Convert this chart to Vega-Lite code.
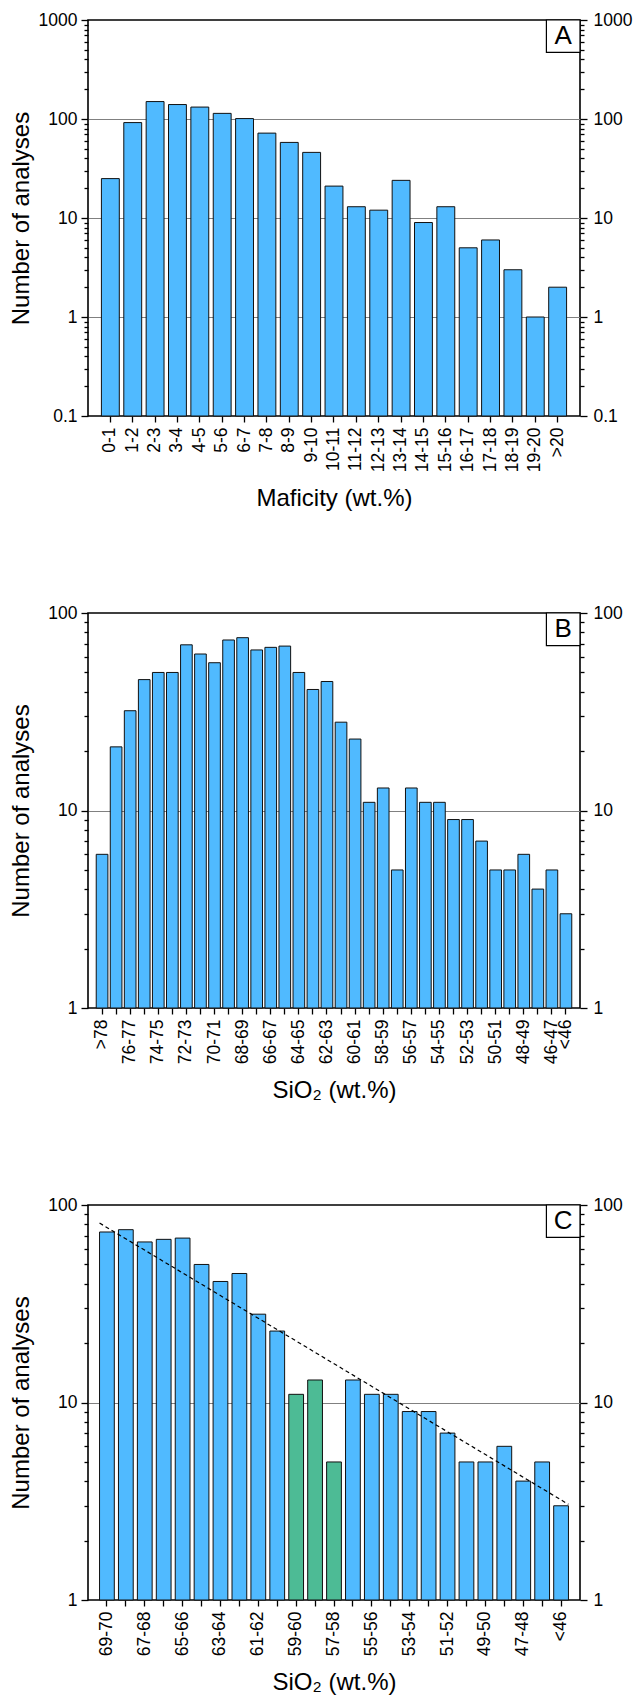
{
  "$schema": "https://vega.github.io/schema/vega-lite/v6.json",
  "padding": {"top": 10, "left": 8, "right": 2, "bottom": 0},
  "bounds": "flush",
  "spacing": 197,
  "config": {
    "font": "Liberation Sans",
    "view": {"stroke": "black", "strokeWidth": 1.6},
    "axis": {
      "labelFont": "Liberation Sans", "titleFont": "Liberation Sans",
      "labelFontSize": 17.5, "titleFontSize": 24, "titleFontWeight": "normal",
      "labelColor": "black", "titleColor": "black", "ticks": true, "tickColor": "black", "tickOpacity": 1,
      "tickWidth": 1.3, "domain": false, "grid": false, "labelPadding": 4
    }
  },
  "vconcat": [
    {
      "width": 492, "height": 396,
      "data": {"values": [
        {"cat": "0-1", "n": 25}, {"cat": "1-2", "n": 92}, {"cat": "2-3", "n": 150},
        {"cat": "3-4", "n": 140}, {"cat": "4-5", "n": 132}, {"cat": "5-6", "n": 114},
        {"cat": "6-7", "n": 101}, {"cat": "7-8", "n": 72}, {"cat": "8-9", "n": 58},
        {"cat": "9-10", "n": 46}, {"cat": "10-11", "n": 21}, {"cat": "11-12", "n": 13},
        {"cat": "12-13", "n": 12}, {"cat": "13-14", "n": 24}, {"cat": "14-15", "n": 9},
        {"cat": "15-16", "n": 13}, {"cat": "16-17", "n": 5}, {"cat": "17-18", "n": 6},
        {"cat": "18-19", "n": 3}, {"cat": "19-20", "n": 1}, {"cat": ">20", "n": 2}
      ]},
      "resolve": {"axis": {"y": "independent"}},
      "layer": [
        {
          "mark": {"type": "bar", "fill": "#50BAFF", "stroke": "#111111", "strokeWidth": 1},
          "encoding": {
            "x": {"field": "cat", "type": "nominal",
              "scale": {"type": "band", "domain": ["0-1","1-2","2-3","3-4","4-5","5-6","6-7","7-8","8-9","9-10","10-11","11-12","12-13","13-14","14-15","15-16","16-17","17-18","18-19","19-20",">20"], "paddingInner": 0.2, "paddingOuter": 0.6},
              "axis": {"title": "Maficity (wt.%)", "labelAngle": -90, "tickSize": 6, "labelPadding": 5, "titlePadding": 15, "labelOverlap": false}},
            "y": {"field": "n", "type": "quantitative", "stack": null,
              "scale": {"type": "log", "domain": [0.1, 1000], "nice": false},
              "axis": {"orient": "left", "values": [0.1, 1, 10, 100, 1000], "format": "~g", "tickSize": 7, "title": "Number of analyses", "titlePadding": 5}}
          }
        },
        {
          "mark": {"type": "point", "opacity": 0},
          "encoding": {"y": {"field": "n", "type": "quantitative",
            "axis": {"orient": "left", "values": [0.2,0.3,0.4,0.5,0.6,0.7,0.8,0.9,2,3,4,5,6,7,8,9,20,30,40,50,60,70,80,90,200,300,400,500,600,700,800,900], "labels": false, "tickSize": 4, "title": null}}}
        },
        {
          "mark": {"type": "point", "opacity": 0},
          "encoding": {"y": {"field": "n", "type": "quantitative",
            "axis": {"orient": "right", "values": [0.1, 1, 10, 100, 1000], "format": "~g", "tickSize": 7, "labelPadding": 6, "title": null}}}
        },
        {
          "mark": {"type": "point", "opacity": 0},
          "encoding": {"y": {"field": "n", "type": "quantitative",
            "axis": {"orient": "right", "values": [0.2,0.3,0.4,0.5,0.6,0.7,0.8,0.9,2,3,4,5,6,7,8,9,20,30,40,50,60,70,80,90,200,300,400,500,600,700,800,900], "labels": false, "tickSize": 4, "title": null}}}
        },
        {
          "mark": {"type": "point", "opacity": 0},
          "encoding": {"y": {"field": "n", "type": "quantitative",
            "axis": {"orient": "left", "values": [1, 10, 100], "grid": true, "gridColor": "#808080", "gridWidth": 1.2, "ticks": false, "labels": false, "title": null}}}
        },
        {
          "data": {"values": [{"cat": ">20", "label": "A"}]},
          "mark": {"type": "rect", "fill": "white", "stroke": "black", "strokeWidth": 1.2},
          "encoding": {
            "x": {"field": "cat", "type": "nominal", "bandPosition": -0.128},
            "x2": {"field": "cat", "bandPosition": 1.75},
            "y": {"datum": 1000, "type": "quantitative", "axis": null},
            "y2": {"datum": 471}
          }
        },
        {
          "data": {"values": [{"cat": ">20", "label": "A"}]},
          "mark": {"type": "text", "fontSize": 26, "font": "Liberation Sans", "color": "black", "baseline": "middle", "align": "center"},
          "encoding": {
            "x": {"field": "cat", "type": "nominal", "bandPosition": 0.811},
            "y": {"datum": 686, "type": "quantitative", "axis": null},
            "text": {"field": "label"}
          }
        }
      ]
    },
    {
      "width": 492, "height": 395,
      "data": {"values": [
        {"cat": ">78", "n": 6}, {"cat": "77-78", "n": 21}, {"cat": "76-77", "n": 32},
        {"cat": "75-76", "n": 46}, {"cat": "74-75", "n": 50}, {"cat": "73-74", "n": 50},
        {"cat": "72-73", "n": 69}, {"cat": "71-72", "n": 62}, {"cat": "70-71", "n": 56},
        {"cat": "69-70", "n": 73}, {"cat": "68-69", "n": 75}, {"cat": "67-68", "n": 65},
        {"cat": "66-67", "n": 67}, {"cat": "65-66", "n": 68}, {"cat": "64-65", "n": 50},
        {"cat": "63-64", "n": 41}, {"cat": "62-63", "n": 45}, {"cat": "61-62", "n": 28},
        {"cat": "60-61", "n": 23}, {"cat": "59-60", "n": 11}, {"cat": "58-59", "n": 13},
        {"cat": "57-58", "n": 5}, {"cat": "56-57", "n": 13}, {"cat": "55-56", "n": 11},
        {"cat": "54-55", "n": 11}, {"cat": "53-54", "n": 9}, {"cat": "52-53", "n": 9},
        {"cat": "51-52", "n": 7}, {"cat": "50-51", "n": 5}, {"cat": "49-50", "n": 5},
        {"cat": "48-49", "n": 6}, {"cat": "47-48", "n": 4}, {"cat": "46-47", "n": 5},
        {"cat": "<46", "n": 3}
      ]},
      "resolve": {"axis": {"y": "independent"}},
      "layer": [
        {
          "mark": {"type": "bar", "fill": "#50BAFF", "stroke": "#111111", "strokeWidth": 1},
          "encoding": {
            "x": {"field": "cat", "type": "nominal",
              "scale": {"type": "band", "domain": [">78","77-78","76-77","75-76","74-75","73-74","72-73","71-72","70-71","69-70","68-69","67-68","66-67","65-66","64-65","63-64","62-63","61-62","60-61","59-60","58-59","57-58","56-57","55-56","54-55","53-54","52-53","51-52","50-51","49-50","48-49","47-48","46-47","<46"], "paddingInner": 0.17, "paddingOuter": 0.585},
              "axis": {"title": "SiO₂ (wt.%)", "labelAngle": -90, "tickSize": 6, "labelPadding": 5, "titlePadding": 15, "labelOverlap": false,
                "labelExpr": "indexof(['>78','76-77','74-75','72-73','70-71','68-69','66-67','64-65','62-63','60-61','58-59','56-57','54-55','52-53','50-51','48-49','46-47','<46'], datum.value) >= 0 ? datum.label : ''"}},
            "y": {"field": "n", "type": "quantitative", "stack": null,
              "scale": {"type": "log", "domain": [1, 100], "nice": false},
              "axis": {"orient": "left", "values": [1, 10, 100], "format": "~g", "tickSize": 7, "title": "Number of analyses", "titlePadding": 14.7}}
          }
        },
        {
          "mark": {"type": "point", "opacity": 0},
          "encoding": {"y": {"field": "n", "type": "quantitative",
            "axis": {"orient": "left", "values": [2,3,4,5,6,7,8,9,20,30,40,50,60,70,80,90], "labels": false, "tickSize": 4, "title": null}}}
        },
        {
          "mark": {"type": "point", "opacity": 0},
          "encoding": {"y": {"field": "n", "type": "quantitative",
            "axis": {"orient": "right", "values": [1, 10, 100], "format": "~g", "tickSize": 7, "labelPadding": 6, "title": null}}}
        },
        {
          "mark": {"type": "point", "opacity": 0},
          "encoding": {"y": {"field": "n", "type": "quantitative",
            "axis": {"orient": "right", "values": [2,3,4,5,6,7,8,9,20,30,40,50,60,70,80,90], "labels": false, "tickSize": 4, "title": null}}}
        },
        {
          "mark": {"type": "point", "opacity": 0},
          "encoding": {"y": {"field": "n", "type": "quantitative",
            "axis": {"orient": "left", "values": [10], "grid": true, "gridColor": "#808080", "gridWidth": 1.2, "ticks": false, "labels": false, "title": null}}}
        },
        {
          "data": {"values": [{"cat": "<46", "label": "B"}]},
          "mark": {"type": "rect", "fill": "white", "stroke": "black", "strokeWidth": 1.2},
          "encoding": {
            "x": {"field": "cat", "type": "nominal", "bandPosition": -1.175},
            "x2": {"field": "cat", "bandPosition": 1.705},
            "y": {"datum": 100, "type": "quantitative", "axis": null},
            "y2": {"datum": 68.4}
          }
        },
        {
          "data": {"values": [{"cat": "<46", "label": "B"}]},
          "mark": {"type": "text", "fontSize": 26, "font": "Liberation Sans", "color": "black", "baseline": "middle", "align": "center"},
          "encoding": {
            "x": {"field": "cat", "type": "nominal", "bandPosition": 0.265},
            "y": {"datum": 82.7, "type": "quantitative", "axis": null},
            "text": {"field": "label"}
          }
        }
      ]
    },
    {
      "width": 492, "height": 395,
      "data": {"values": [
        {"cat": "69-70", "n": 73, "grp": "main"}, {"cat": "68-69", "n": 75, "grp": "main"},
        {"cat": "67-68", "n": 65, "grp": "main"}, {"cat": "66-67", "n": 67, "grp": "main"},
        {"cat": "65-66", "n": 68, "grp": "main"}, {"cat": "64-65", "n": 50, "grp": "main"},
        {"cat": "63-64", "n": 41, "grp": "main"}, {"cat": "62-63", "n": 45, "grp": "main"},
        {"cat": "61-62", "n": 28, "grp": "main"}, {"cat": "60-61", "n": 23, "grp": "main"},
        {"cat": "59-60", "n": 11, "grp": "gap"}, {"cat": "58-59", "n": 13, "grp": "gap"},
        {"cat": "57-58", "n": 5, "grp": "gap"}, {"cat": "56-57", "n": 13, "grp": "main"},
        {"cat": "55-56", "n": 11, "grp": "main"}, {"cat": "54-55", "n": 11, "grp": "main"},
        {"cat": "53-54", "n": 9, "grp": "main"}, {"cat": "52-53", "n": 9, "grp": "main"},
        {"cat": "51-52", "n": 7, "grp": "main"}, {"cat": "50-51", "n": 5, "grp": "main"},
        {"cat": "49-50", "n": 5, "grp": "main"}, {"cat": "48-49", "n": 6, "grp": "main"},
        {"cat": "47-48", "n": 4, "grp": "main"}, {"cat": "46-47", "n": 5, "grp": "main"},
        {"cat": "<46", "n": 3, "grp": "main"}
      ]},
      "resolve": {"axis": {"y": "independent"}},
      "layer": [
        {
          "mark": {"type": "bar", "stroke": "#111111", "strokeWidth": 1},
          "encoding": {
            "x": {"field": "cat", "type": "nominal",
              "scale": {"type": "band", "domain": ["69-70","68-69","67-68","66-67","65-66","64-65","63-64","62-63","61-62","60-61","59-60","58-59","57-58","56-57","55-56","54-55","53-54","52-53","51-52","50-51","49-50","48-49","47-48","46-47","<46"], "paddingInner": 0.22, "paddingOuter": 0.61},
              "axis": {"title": "SiO₂ (wt.%)", "labelAngle": -90, "tickSize": 6, "labelPadding": 5, "titlePadding": 15, "labelOverlap": false,
                "labelExpr": "indexof(['69-70','67-68','65-66','63-64','61-62','59-60','57-58','55-56','53-54','51-52','49-50','47-48','<46'], datum.value) >= 0 ? datum.label : ''"}},
            "y": {"field": "n", "type": "quantitative", "stack": null,
              "scale": {"type": "log", "domain": [1, 100], "nice": false},
              "axis": {"orient": "left", "values": [1, 10, 100], "format": "~g", "tickSize": 7, "title": "Number of analyses", "titlePadding": 14.7}},
            "fill": {"field": "grp", "type": "nominal", "scale": {"domain": ["main", "gap"], "range": ["#50BAFF", "#4DBB95"]}, "legend": null}
          }
        },
        {
          "mark": {"type": "point", "opacity": 0},
          "encoding": {"y": {"field": "n", "type": "quantitative",
            "axis": {"orient": "left", "values": [2,3,4,5,6,7,8,9,20,30,40,50,60,70,80,90], "labels": false, "tickSize": 4, "title": null}}}
        },
        {
          "mark": {"type": "point", "opacity": 0},
          "encoding": {"y": {"field": "n", "type": "quantitative",
            "axis": {"orient": "right", "values": [1, 10, 100], "format": "~g", "tickSize": 7, "labelPadding": 6, "title": null}}}
        },
        {
          "mark": {"type": "point", "opacity": 0},
          "encoding": {"y": {"field": "n", "type": "quantitative",
            "axis": {"orient": "right", "values": [2,3,4,5,6,7,8,9,20,30,40,50,60,70,80,90], "labels": false, "tickSize": 4, "title": null}}}
        },
        {
          "mark": {"type": "point", "opacity": 0},
          "encoding": {"y": {"field": "n", "type": "quantitative",
            "axis": {"orient": "left", "values": [10], "grid": true, "gridColor": "#808080", "gridWidth": 1.2, "ticks": false, "labels": false, "title": null}}}
        },
        {
          "data": {"values": [{"from": "69-70", "to": "<46", "n0": 81, "n1": 3.05}]},
          "mark": {"type": "rule", "color": "black", "strokeWidth": 1.2, "strokeDash": [4, 3]},
          "encoding": {
            "x": {"field": "from", "type": "nominal", "bandPosition": 0},
            "x2": {"field": "to", "bandPosition": 1},
            "y": {"field": "n0", "type": "quantitative", "axis": null},
            "y2": {"field": "n1"}
          }
        },
        {
          "data": {"values": [{"cat": "<46", "label": "C"}]},
          "mark": {"type": "rect", "fill": "white", "stroke": "black", "strokeWidth": 1.2},
          "encoding": {
            "x": {"field": "cat", "type": "nominal", "bandPosition": -0.494},
            "x2": {"field": "cat", "bandPosition": 1.782},
            "y": {"datum": 100, "type": "quantitative", "axis": null},
            "y2": {"datum": 68.5}
          }
        },
        {
          "data": {"values": [{"cat": "<46", "label": "C"}]},
          "mark": {"type": "text", "fontSize": 26, "font": "Liberation Sans", "color": "black", "baseline": "middle", "align": "center"},
          "encoding": {
            "x": {"field": "cat", "type": "nominal", "bandPosition": 0.644},
            "y": {"datum": 82.7, "type": "quantitative", "axis": null},
            "text": {"field": "label"}
          }
        }
      ]
    }
  ]
}
